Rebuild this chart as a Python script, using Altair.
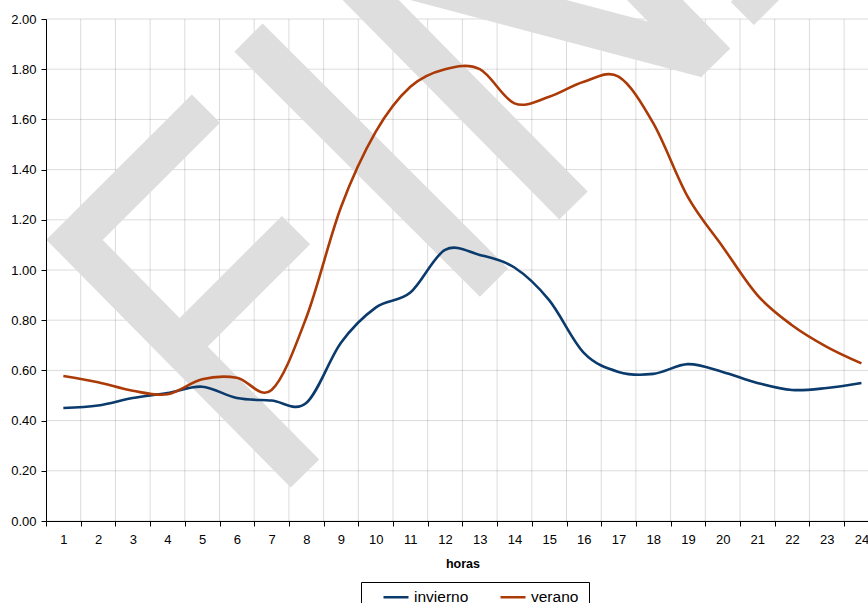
import altair as alt
import pandas as pd

# ---- data -------------------------------------------------------------
horas = list(range(1, 25))
invierno = [0.45, 0.46, 0.49, 0.51, 0.535, 0.49, 0.48, 0.47, 0.71, 0.85, 0.91, 1.08,
            1.06, 1.01, 0.88, 0.67, 0.594, 0.586, 0.625, 0.594, 0.55, 0.522, 0.53, 0.55]
verano = [0.578, 0.553, 0.519, 0.505, 0.565, 0.571, 0.522, 0.81, 1.25, 1.55, 1.73, 1.80,
          1.80, 1.664, 1.69, 1.75, 1.77, 1.585, 1.29, 1.093, 0.90, 0.78, 0.694, 0.628]
series = ["invierno", "verano"]
colores = ["#0b3a6c", "#ab3a06"]

y_marcas = [0.0, 0.2, 0.4, 0.6, 0.8, 1.0, 1.2, 1.4, 1.6, 1.8, 2.0]
x_limites = [h + 0.5 for h in horas[:-1]]          # borders between hour bands
x_valores = [0.5] + sorted(horas + x_limites)      # ticks on borders, labels on hours

# watermark strokes (hour / value units)
marca_trazo = ["a", "a", "a", "b", "b", "c", "c", "d", "d", "e", "e", "f", "f", "g", "g"]
marca_orden = [0, 1, 2, 0, 1, 0, 1, 0, 1, 0, 1, 0, 1, 0, 1]
marca_x = [5.111, 1.321, 7.964, 7.705, 4.350, 6.336, 13.411, 9.290, 15.702,
           10.125, 19.549, 17.489, 19.808, 20.644, 21.307]
marca_y = [1.643, 1.120, 0.189, 1.159, 0.696, 1.926, 0.950, 2.155, 1.257,
           2.190, 1.845, 2.155, 1.827, 2.124, 2.032]

# ---- layout -----------------------------------------------------------
W, H = 822, 502
X_MAX = 0.5 + W / 34.7
FONT = "Liberation Sans"

xscale = alt.Scale(domain=[0.5, X_MAX], nice=False, zero=False)
yscale = alt.Scale(domain=[0, 2], nice=False)

xaxis = alt.Axis(
    values=x_valores,
    labelExpr="datum.value % 1 === 0 ? format(datum.value, 'd') : ''",
    labelOverlap=False,
    labelFlush=False,
    tickOpacity={"condition": {"test": "datum.value % 1 === 0", "value": 0}, "value": 1},
    grid=False,
    domainColor="black",
    tickColor="black",
    tickSize=5,
    labelPadding=7,
    labelFontSize=13,
    labelColor="black",
    title="horas",
    titleFontSize=12.5,
    titleFontWeight="bold",
    titleColor="black",
    titleBaseline="alphabetic",
    titleAlign="center",
    titleX=416.5,
    titleY=46,
    zindex=1,
)
yaxis = alt.Axis(
    values=y_marcas,
    format=".2f",
    grid=False,
    domainColor="black",
    tickColor="black",
    tickSize=5,
    labelPadding=5,
    labelFontSize=13,
    labelColor="black",
    title=None,
    zindex=1,
)

df = pd.DataFrame({
    "hora": horas * 2,
    "valor": invierno + verano,
    "serie": ["invierno"] * len(horas) + ["verano"] * len(horas),
})
df_y = pd.DataFrame({"v": y_marcas})
df_x = pd.DataFrame({"b": x_limites})
df_marca = pd.DataFrame({"trazo": marca_trazo, "orden": marca_orden,
                         "mx": marca_x, "my": marca_y})

grid_y = alt.Chart(df_y).mark_rule(color="black", opacity=0.14, strokeWidth=1).encode(
    y=alt.Y("v:Q", scale=yscale, axis=yaxis),
    x=alt.value(0),
    x2=alt.value(W),
)
grid_x = alt.Chart(df_x).mark_rule(color="black", opacity=0.14, strokeWidth=1).encode(
    x=alt.X("b:Q", scale=xscale, axis=xaxis),
)

marca = alt.Chart(df_marca).mark_line(
    color="#dedede", strokeWidth=40, strokeCap="butt", strokeJoin="miter"
).encode(
    x=alt.X("mx:Q", scale=xscale, axis=xaxis),
    y=alt.Y("my:Q", scale=yscale, axis=yaxis),
    detail="trazo:N",
    order="orden:Q",
)

lineas = alt.Chart(df).mark_line(interpolate="cardinal", tension=0, strokeWidth=2.6).encode(
    x=alt.X("hora:Q", scale=xscale, axis=xaxis),
    y=alt.Y("valor:Q", scale=yscale, axis=yaxis),
    color=alt.Color(
        "serie:N",
        scale=alt.Scale(domain=series, range=colores),
        legend=alt.Legend(
            title=None,
            orient="none",
            legendX=315,
            legendY=563,
            direction="horizontal",
            strokeColor="black",
            fillColor="white",
            padding=10,
            clipHeight=10,
            symbolOffset=11,
            symbolType="stroke",
            symbolSize=625,
            symbolStrokeWidth=2.6,
            labelFontSize=15.5,
            labelColor="black",
            labelOffset=4,
            columnPadding=19,
        ),
    ),
)

chart = alt.layer(grid_y, grid_x, marca, lineas).properties(
    width=W,
    height=H,
    padding={"left": 46, "top": 19, "right": 0, "bottom": 82},
    autosize=alt.AutoSizeParams(type="none"),
).configure(font=FONT).configure_view(strokeWidth=0)

chart.save("out.html", embed_options={"renderer": "svg", "actions": False})
